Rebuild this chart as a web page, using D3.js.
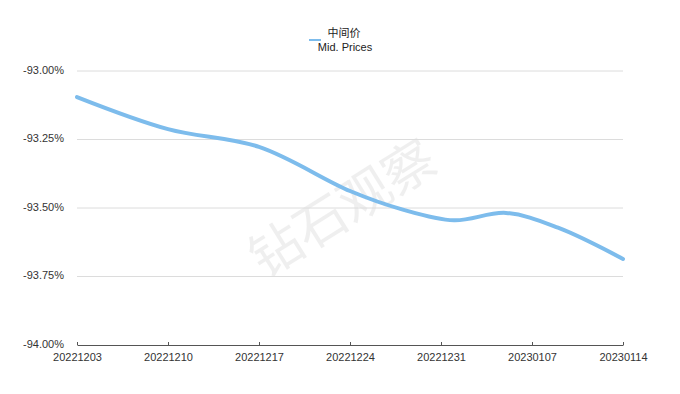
<!DOCTYPE html>
<html><head><meta charset="utf-8">
<script src="https://cdn.jsdelivr.net/npm/d3@7"></script>
<style>body{margin:0;background:#fff}svg{display:block}</style>
</head><body>
<svg id="c" width="680" height="394"></svg>
<script>
const dates = ["20221203","20221210","20221217","20221224","20221228","20230101","20230105","20230109","20230114"];
const midPrices = [-93.095,-93.212,-93.277,-93.438,-93.505,-93.545,-93.518,-93.572,-93.686];
const xTicks = ["20221203","20221210","20221217","20221224","20221231","20230107","20230114"];
const yTicks = [-93.00,-93.25,-93.50,-93.75,-94.00];
const legendLabels = ["中间价","Mid. Prices"];

const parse = d3.timeParse("%Y%m%d");
const fmt = d3.timeFormat("%Y%m%d");
const svg = d3.select("#c");
const font = "'Liberation Sans', Arial, sans-serif";
const x = d3.scaleTime().domain([parse(xTicks[0]), parse(xTicks[xTicks.length-1])]).range([77,623]);
const y = d3.scaleLinear().domain([-94,-93]).range([345,71]);

// watermark
svg.append("text").attr("transform","translate(345,212) rotate(-32)")
  .attr("text-anchor","middle").attr("dominant-baseline","middle")
  .style("font-family","'Noto Sans CJK SC', sans-serif").style("font-size","52px")
  .style("fill","#000").style("opacity",0.06).text("钻石观察");

// gridlines
svg.append("g").selectAll("line").data(yTicks.slice(0,-1)).join("line")
  .attr("x1",77).attr("x2",623).attr("y1",d=>y(d)).attr("y2",d=>y(d))
  .attr("stroke","#dcdcdc").attr("stroke-width",1);

// y labels
svg.append("g").selectAll("text").data(yTicks).join("text")
  .attr("x",64).attr("y",d=>y(d)).attr("text-anchor","end").attr("dominant-baseline","middle")
  .style("font-family",font).style("font-size","11px").style("fill","#333")
  .text(d=>d.toFixed(2)+"%");

// x axis
const xAxis = d3.axisBottom(x).tickValues(xTicks.map(parse)).tickFormat(fmt).tickSizeInner(-3).tickSizeOuter(0).tickPadding(8);
const gx = svg.append("g").attr("transform","translate(0,345)").call(xAxis);
gx.select(".domain").attr("stroke","#555");
gx.selectAll(".tick line").attr("stroke","#555");
gx.selectAll(".tick text").style("font-family",font).style("font-size","11px").style("fill","#333");

// line
const line = d3.line().x((d,i)=>x(parse(dates[i]))).y(d=>y(d)).curve(d3.curveCatmullRom.alpha(0.5));
svg.append("path").datum(midPrices).attr("d",line)
  .attr("fill","none").attr("stroke","#7dbcec").attr("stroke-width",4).attr("stroke-linecap","round");

// legend
svg.append("line").attr("x1",309).attr("x2",321).attr("y1",40).attr("y2",40).attr("stroke","#7dbcec").attr("stroke-width",2);
svg.append("text").attr("x",344).attr("y",37).attr("text-anchor","middle")
  .style("font-family","'Noto Sans CJK SC', sans-serif").style("font-size","11px").style("fill","#222").text(legendLabels[0]);
svg.append("text").attr("x",345).attr("y",51).attr("text-anchor","middle")
  .style("font-family",font).style("font-size","11px").style("fill","#222").text(legendLabels[1]);
</script>
</body></html>
